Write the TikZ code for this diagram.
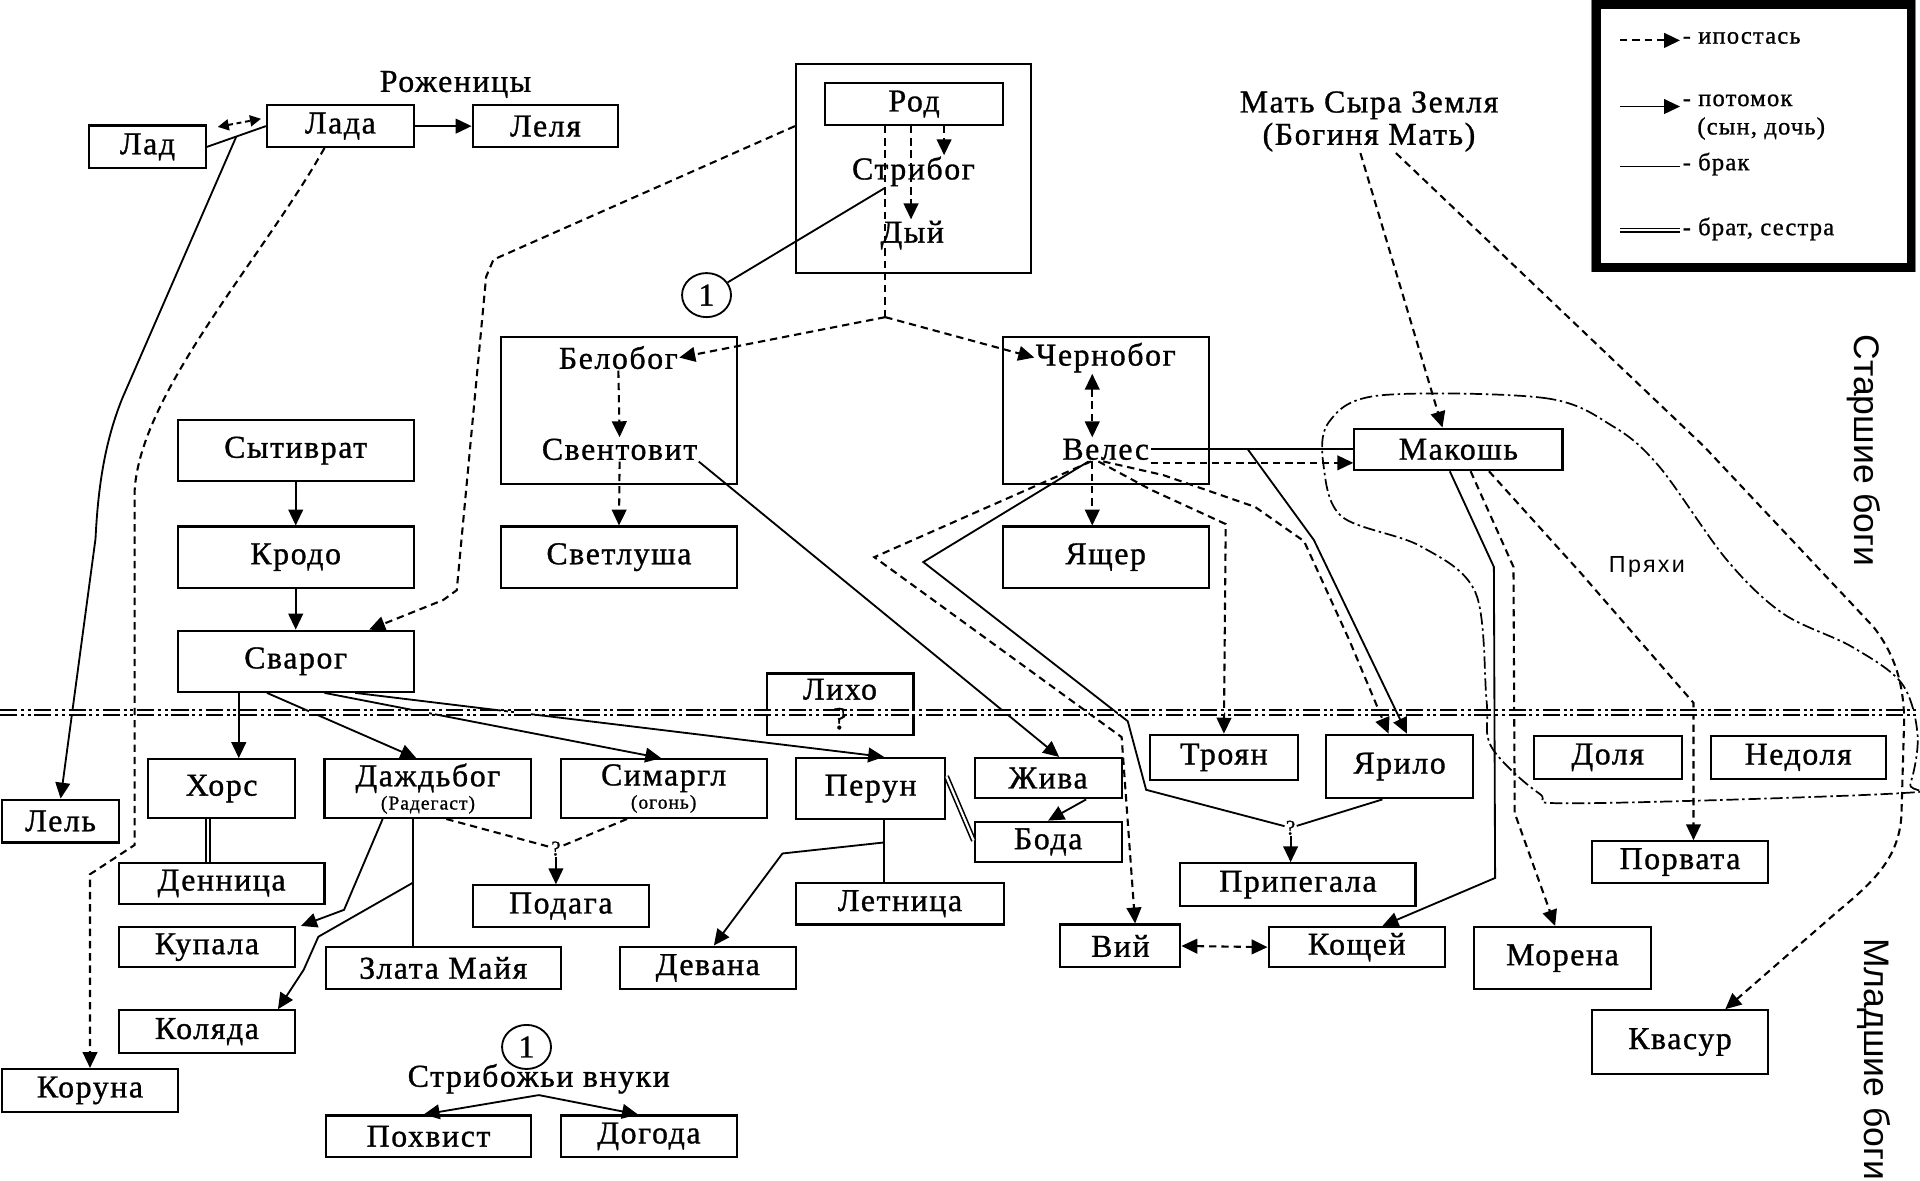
\documentclass[tikz,border=0pt]{standalone}
\usepackage{fontspec}
\setmainfont{Liberation Serif}[LetterSpace=5,FakeBold=1]
\newfontfamily\sansfam{Liberation Sans}
\newfontfamily\sanswide{Liberation Sans}[LetterSpace=10]
\usetikzlibrary{arrows.meta,shapes.geometric,calc}
\newcommand\boxfont{\fontsize{26}{26}\selectfont}
\newcommand\smlfont{\fontsize{16}{16}\selectfont}
\newcommand\legfont{\fontsize{20}{22}\selectfont}
\newcommand\qmfont{\fontsize{17}{17}\selectfont}
\newcommand\sidefont{\sansfam\fontsize{29}{29}\selectfont}
\begin{document}
\begin{tikzpicture}[x=1pt,y=-1pt,
 >={Triangle[length=13pt,width=12pt]},
 gbox/.style={draw,line width=1.7pt,inner sep=0pt,align=center,font=\boxfont},
 txt/.style={inner sep=1pt,font=\boxfont},
 grp/.style={draw,line width=1.7pt,inner sep=0pt},
 circ/.style={draw,ellipse,line width=1.5pt,minimum width=40pt,minimum height=36pt,inner sep=0pt,font=\boxfont},
 desc/.style={line width=1.5pt,->},
 hyp/.style={line width=1.7pt,dash pattern=on 6pt off 4pt,->},
 hypline/.style={line width=1.7pt,dash pattern=on 6pt off 4pt},
 hypboth/.style={line width=1.7pt,dash pattern=on 6pt off 4pt,<->},
 marr/.style={line width=1.5pt},
 sib/.style={double,double distance=1.8pt,line width=1.3pt},
 spin/.style={line width=1.4pt,dash pattern=on 10pt off 3pt on 2pt off 3pt},
 sepline/.style={double,double distance=2pt,line width=2pt,dash pattern=on 14pt off 3pt on 2.5pt off 3pt on 2.5pt off 3pt},
]
\fill[white] (0,0) rectangle (1568,964);
\useasboundingbox (0,0) rectangle (1568,964);

% ---------- nodes ----------
\node[gbox,minimum width=95pt,minimum height=35pt] (Lad) at (120.5,120) {Лад};
\node[gbox,minimum width=120pt,minimum height=34pt] (Lada) at (278,103) {Лада};
\node[gbox,minimum width=119pt,minimum height=34pt] (Lelya) at (445.5,103) {Леля};
\node[txt] (Rozh) at (372,69) {Роженицы};
\node[gbox,minimum width=95pt,minimum height=35pt] (Lel) at (49.5,670.5) {Лель};
\node[gbox,minimum width=143pt,minimum height=35pt] (Koruna) at (73.5,890.5) {Коруна};

\node[grp,minimum width=192pt,minimum height=171pt] (RodBox) at (746,137.5) {};
\node[gbox,minimum width=145pt,minimum height=34pt] (Rod) at (746.5,85) {Род};
\node[txt] (Stribog) at (746,140) {Стрибог};
\node[txt] (Dyi) at (745,192) {Дый};
\node[circ] (c1) at (577,241) {1};

\node[grp,minimum width=193pt,minimum height=120pt] (BelBox) at (505.5,335) {};
\node[txt] (Belobog) at (505,292) {Белобог};
\node[txt] (Svent) at (506,367) {Свентовит};
\node[gbox,minimum width=193pt,minimum height=50pt] (Svetl) at (505.5,455) {Светлуша};

\node[grp,minimum width=168pt,minimum height=120pt] (ChBox) at (903,335) {};
\node[txt] (Chern) at (903,292) {Чернобог};
\node[txt] (Veles) at (903,367) {Велес};
\node[gbox,minimum width=168pt,minimum height=50pt] (Yash) at (903,455) {Ящер};

\node[gbox,minimum width=170pt,minimum height=34pt] (Makosh) at (1191,367) {Макошь};
\node[txt] (Matz) at (1118,86) {Мать Сыра Земля};
\node[txt] (Bogm) at (1118,112) {(Богиня Мать)};

\node[gbox,minimum width=193pt,minimum height=50pt] (Sytiv) at (241.5,368) {Сытиврат};
\node[gbox,minimum width=193pt,minimum height=50pt] (Krodo) at (241.5,455) {Кродо};
\node[gbox,minimum width=193pt,minimum height=50pt] (Svarog) at (241.5,540) {Сварог};

\node[gbox,minimum width=120pt,minimum height=50pt] (Likho) at (686,575) {Лихо\\[-2pt]?};
\node[gbox,minimum width=120pt,minimum height=48pt] (Khors) at (181,644) {Хорс};
\node[gbox,minimum width=169pt,minimum height=48pt] (Dazhd) at (349.5,644) {Даждьбог\\[-7pt]{\smlfont (Радегаст)}};
\node[gbox,minimum width=168pt,minimum height=48pt] (Simargl) at (542,644) {Симаргл\\[-7pt]{\smlfont (огонь)}};
\node[gbox,minimum width=122pt,minimum height=50pt] (Perun) at (711,644) {Перун};
\node[gbox,minimum width=120pt,minimum height=33pt] (Zhiva) at (856,635.5) {Жива};
\node[gbox,minimum width=120pt,minimum height=33pt] (Boda) at (856,687.5) {Бода};
\node[gbox,minimum width=121pt,minimum height=37pt] (Troyan) at (999.5,618.5) {Троян};
\node[gbox,minimum width=120pt,minimum height=52pt] (Yarilo) at (1143,626) {Ярило};
\node[gbox,minimum width=121pt,minimum height=35pt] (Dolya) at (1313,618.5) {Доля};
\node[gbox,minimum width=143pt,minimum height=35pt] (Nedolya) at (1468.5,618.5) {Недоля};
\node[gbox,minimum width=168pt,minimum height=33pt] (Dennica) at (181,721.5) {Денница};
\node[gbox,minimum width=144pt,minimum height=33pt] (Kupala) at (169,773.5) {Купала};
\node[gbox,minimum width=192pt,minimum height=35pt] (Zlata) at (362,790.5) {Злата Майя};
\node[gbox,minimum width=144pt,minimum height=35pt] (Kolyada) at (169,842.5) {Коляда};
\node[gbox,minimum width=144pt,minimum height=34pt] (Podaga) at (458,740) {Подага};
\node[gbox,minimum width=144pt,minimum height=35pt] (Devana) at (578,790.5) {Девана};
\node[gbox,minimum width=170pt,minimum height=34pt] (Letn) at (735,738) {Летница};
\node[gbox,minimum width=192pt,minimum height=35pt] (Pripeg) at (1060,722.5) {Припегала};
\node[gbox,minimum width=98pt,minimum height=35pt] (Vii) at (915,772.5) {Вий};
\node[gbox,minimum width=144pt,minimum height=33pt] (Koshch) at (1108,773.5) {Кощей};
\node[gbox,minimum width=144pt,minimum height=51pt] (Morena) at (1276,782.5) {Морена};
\node[gbox,minimum width=144pt,minimum height=34pt] (Porvata) at (1372,704) {Порвата};
\node[gbox,minimum width=144pt,minimum height=52pt] (Kvasur) at (1372,851) {Квасур};
\node[circ] (c2) at (430,855) {1};
\node[txt] (Svnuki) at (440,881) {Стрибожьи внуки};
\node[gbox,minimum width=168pt,minimum height=34pt] (Pokhv) at (350,928) {Похвист};
\node[gbox,minimum width=144pt,minimum height=34pt] (Dogoda) at (530,928) {Догода};
\node[font=\qmfont,inner sep=1pt] (q1) at (454,693) {?};
\node[font=\qmfont,inner sep=1pt] (q2) at (1054,676) {?};

% ---------- Lad / Lada ----------
\coordinate (ll) at ($(Lad.east)!0.5!(Lada.west)$);
\draw[marr] (Lad.east) -- (Lada.west);
\draw[line width=1.6pt,dash pattern=on 4pt off 3pt,{Triangle[length=9pt,width=9pt]}-{Triangle[length=9pt,width=9pt]}] ([xshift=9pt,yshift=-2pt]Lad.north east) -- ([xshift=-4pt,yshift=6pt]Lada.west);
\draw[desc] (Lada.east) -- (Lelya.west);
\draw[desc] (ll) -- (100,325) .. controls (85,362) and (80,400) .. (78,440) -- (Lel.north);
\draw[hyp] ([xshift=-13pt]Lada.south) .. controls (215,210) and (115,320) .. (110,400) -- (110,690) -- (73.5,714) -- (Koruna.north);

% ---------- Rod ----------
\draw[hyp] ([xshift=24.5pt]Rod.south) -- ([xshift=25pt]Stribog.north);
\draw[hyp] ([xshift=-2.5pt]Rod.south) -- ([xshift=-1pt]Dyi.north);
\coordinate (br) at (723,259);
\draw[hypline] ([xshift=-23.5pt]Rod.south) -- (br);
\draw[hyp] (br) -- (Belobog.east);
\draw[hyp] (br) -- (Chern.west);
\draw[marr] ([xshift=-23pt]Stribog.south) -- (c1);
\draw[hyp] ([yshift=34.5pt]RodBox.west) -- (403,212) -- (397,226) -- (373,482) -- (362,490) -- ([xshift=60pt]Svarog.north);

% ---------- Belobog ----------
\draw[hyp] (Belobog.south) -- (Svent.north);
\draw[hyp] (Svent.south) -- (Svetl.north);
\draw[desc] (Svent.south east) -- ([xshift=9pt]Zhiva.north);

% ---------- Chernobog / Veles ----------
\draw[hypboth] ([xshift=-11pt]Chern.south) -- ([xshift=-11pt]Veles.north);
\draw[hyp] ([xshift=-11pt]Veles.south) -- ([xshift=-11pt]Yash.north);
\coordinate (vm) at ($(Veles.east)!0.48!(Makosh.west)$);
\draw[marr] (Veles.east) -- (Makosh.west);
\draw[hyp] ([yshift=-11pt]Veles.east) -- ([yshift=-11pt]Makosh.west);
\draw[desc] (vm) -- (1073,441) -- ([xshift=6pt]Yarilo.north);
\draw[hyp] ([xshift=-6pt]Veles.south) -- (940,400) -- (1001,428) -- (Troyan.north);
\draw[hyp] ([xshift=-2pt]Veles.south) -- (950,388) -- (1025,414) -- (1065,442) -- (1102,523) -- ([xshift=-9pt]Yarilo.north);
\draw[hyp] ([xshift=-12pt]Veles.south) -- (714,455) -- (916,602) -- ([xshift=12pt]Vii.north);
\draw[marr] ([xshift=-14pt]Veles.south) -- (754,459) -- (921,589) -- (936,645) -- (q2);
\draw[marr] ([xshift=-14pt]Yarilo.south) -- (q2);
\draw[desc] (q2) -- ([xshift=-6pt]Pripeg.north);

% ---------- Makosh ----------
\draw[hyp] ([xshift=-7pt]Bogm.south) -- ([xshift=-13pt]Makosh.north);
\draw[hyp] ([xshift=22pt]Bogm.south) -- (1392,365) -- (1530,512) .. controls (1548,535) and (1555,560) .. (1555,590) -- (1553,660) .. controls (1553,700) and (1530,720) .. (1500,745) -- ([xshift=37pt]Kvasur.north);
\draw[desc] ([xshift=-7pt]Makosh.south) -- (1220,463) -- (1221,717) -- ([xshift=21pt]Koshch.north);
\draw[hyp] ([xshift=10pt]Makosh.south) -- (1236,463) -- (1237,664) -- ([xshift=-6pt]Morena.north);
\draw[hyp] ([xshift=25pt]Makosh.south) -- (1291,468) -- (1383,574) -- ([xshift=11pt]Porvata.north);
\draw[spin] plot[smooth cycle, tension=0.55] coordinates {(1126,323) (1261,325) (1317,348) (1355,381) (1410,457) (1456,501) (1512,528) (1553,558) (1566,600) (1560,640) (1548,648) (1287,656) (1257,648) (1218,610) (1214,572) (1205,484) (1160,446) (1096,422) (1081,381) (1085,345)};
\node[font=\sanswide\fontsize{19}{19}\selectfont] (Pryakhi) at (1345,463) {Пряхи};

% ---------- Svarog family ----------
\draw[desc] (Sytiv.south) -- (Krodo.north);
\draw[desc] (Krodo.south) -- (Svarog.north);
\draw[desc] ([xshift=-46.5pt]Svarog.south) -- ([xshift=14pt]Khors.north);
\draw[desc] ([xshift=-23.5pt]Svarog.south) -- ([xshift=-9.5pt]Dazhd.north);
\draw[desc] ([xshift=23.5pt]Svarog.south) -- ([xshift=-2pt]Simargl.north);
\draw[desc] ([xshift=48.5pt]Svarog.south) -- ([xshift=11pt]Perun.north);
\draw[sib] ([xshift=-11pt]Khors.south) -- ([xshift=-11pt]Dennica.north);
\draw[desc] ([xshift=-37pt]Dazhd.south) -- (281,743) -- ([xshift=4pt]Kupala.north east);
\coordinate (dz) at (337,721);
\draw[marr] ([xshift=-12.5pt]Dazhd.south) -- ([xshift=-25pt]Zlata.north);
\draw[desc] (dz) -- (260,765) -- (248,792) -- ([xshift=58pt]Kolyada.north);
\draw[hypline] ([xshift=15pt]Dazhd.south) -- (q1);
\draw[hypline] ([xshift=-30pt]Simargl.south) -- (q1);
\draw[desc] (q1) -- ([xshift=-4pt]Podaga.north);

% ---------- Perun ----------
\draw[marr] ([xshift=11pt]Perun.south) -- ([xshift=-13pt]Letn.north);
\coordinate (pl) at (722,688);
\draw[desc] (pl) -- (639,697) -- ([xshift=5pt]Devana.north);
\draw[sib] ([yshift=10pt]Perun.east) -- ([yshift=1pt]Boda.west);
\draw[desc] ([xshift=31pt]Zhiva.south) -- (Boda.north);

% ---------- Vii / Koshchei ----------
\draw[hypboth] (Vii.east) -- (Koshch.west);

% ---------- Stribozhi vnuki ----------
\draw[desc] (Svnuki.south) -- ([xshift=-4pt]Pokhv.north);
\draw[desc] (Svnuki.south) -- ([xshift=-9pt]Dogoda.north);

% ---------- legend ----------
\draw[line width=0.8pt,gray] (1300,0) rectangle (1564.5,222);
\draw[line width=7pt] (1304,3.5) rectangle (1560.5,218.5);
\coordinate (l1a) at (1323,33); \coordinate (l1b) at (1372,33);
\coordinate (l2a) at (1323,87); \coordinate (l2b) at (1372,87);
\coordinate (l3a) at (1323,136); \coordinate (l3b) at (1372,136);
\coordinate (l4a) at (1323,188); \coordinate (l4b) at (1372,188);
\draw[hyp] (l1a) -- (l1b);
\draw[desc] (l2a) -- (l2b);
\draw[marr] (l3a) -- (l3b);
\draw[sib] (l4a) -- (l4b);
\node[anchor=west,font=\legfont,inner sep=0pt] (lt1) at (1374,31) {- ипостась};
\node[anchor=west,font=\legfont,inner sep=0pt] (lt2) at (1374,82) {- потомок};
\node[anchor=west,font=\legfont,inner sep=0pt] (lt2b) at (1386,105) {(сын, дочь)};
\node[anchor=west,font=\legfont,inner sep=0pt] (lt3) at (1374,134) {- брак};
\node[anchor=west,font=\legfont,inner sep=0pt] (lt4) at (1374,187) {- брат, сестра};

% ---------- side labels ----------
\node[rotate=-90,font=\sidefont] (old) at (1522,368) {Старшие боги};
\node[rotate=-90,font=\sidefont] (young) at (1530,865) {Младшие боги};

% ---------- separator ----------
\coordinate (sepL) at (0,582); \coordinate (sepR) at (1568,582);
\draw[sepline] (sepL) -- (sepR);
\end{tikzpicture}
\end{document}
